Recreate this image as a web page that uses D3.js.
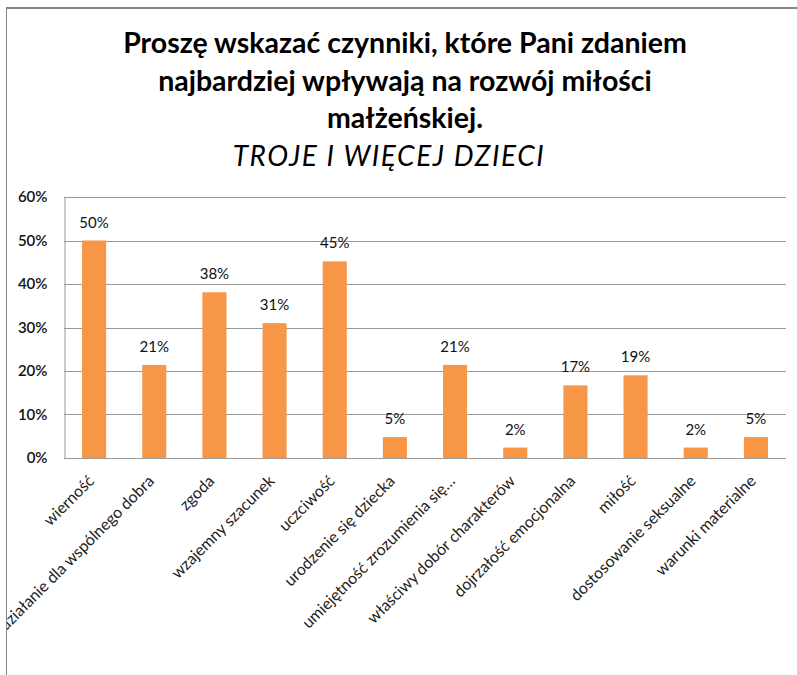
<!DOCTYPE html>
<html>
<head>
<meta charset="utf-8">
<script src="https://cdn.jsdelivr.net/npm/d3@7"></script>
<style>
  body { margin: 0; background: #fff; }
  svg { display: block; font-family: Lato, "Open Sans", sans-serif; }
</style>
</head>
<body>
<div id="chart"></div>
<script>
// data
const categories = [
    "wierność",
    "działanie dla wspólnego dobra",
    "zgoda",
    "wzajemny szacunek",
    "uczciwość",
    "urodzenie się dziecka",
    "umiejętność zrozumienia się…",
    "właściwy dobór charakterów",
    "dojrzałość emocjonalna",
    "miłość",
    "dostosowanie seksualne",
    "warunki materialne"
];
const values = [0.50, 0.214, 0.381, 0.31, 0.452, 0.048, 0.214, 0.024, 0.167, 0.19, 0.024, 0.048];
const yTicks = [0, 0.1, 0.2, 0.3, 0.4, 0.5, 0.6];
const titleLines = [
    "Proszę wskazać czynniki, które Pani zdaniem",
    "najbardziej wpływają na rozwój miłości",
    "małżeńskiej."
];
const subtitle = "TROJE I WIĘCEJ DZIECI";

const width = 797, height = 675;
const margin = { top: 197, right: 11, bottom: 217, left: 64 };

const svg = d3.select("#chart").append("svg")
    .attr("width", width)
    .attr("height", height);

svg.append("defs").append("clipPath").attr("id", "frame")
    .append("rect").attr("x", 7).attr("y", 9).attr("width", width).attr("height", height);

// frame of the chart
svg.append("line")
    .attr("x1", 6).attr("x2", width).attr("y1", 8).attr("y2", 8)
    .attr("stroke", "#858585").attr("stroke-width", 2);
svg.append("line")
    .attr("x1", 6.5).attr("x2", 6.5).attr("y1", 8).attr("y2", height)
    .attr("stroke", "#858585").attr("stroke-width", 1);

const x = d3.scaleBand()
    .domain(categories)
    .range([margin.left, width - margin.right])
    .paddingInner(0.6)
    .paddingOuter(0.3);

const y = d3.scaleLinear()
    .domain([0, 0.6])
    .range([height - margin.bottom, margin.top]);

// title
const title = svg.append("text")
    .attr("text-anchor", "middle")
    .attr("font-weight", "bold")
    .attr("font-size", 28.5)
    .attr("fill", "#000");
titleLines.forEach(function (t, i) {
    title.append("tspan").attr("x", 405).attr("y", 53 + i * 37.5).text(t);
});
svg.append("text")
    .attr("x", 389).attr("y", 166)
    .attr("text-anchor", "middle")
    .attr("font-style", "italic")
    .attr("font-size", 28)
    .attr("letter-spacing", 1.6)
    .attr("fill", "#000")
    .text(subtitle);

// gridlines
svg.append("g")
    .selectAll("line")
    .data(yTicks.slice(1))
    .join("line")
    .attr("x1", margin.left).attr("x2", width - margin.right)
    .attr("y1", d => Math.round(y(d)) + 0.5).attr("y2", d => Math.round(y(d)) + 0.5)
    .attr("stroke", "#999").attr("stroke-width", 1);

// y axis
const yAxis = svg.append("g")
    .attr("transform", `translate(${margin.left + 0.5},0)`)
    .call(d3.axisLeft(y).tickValues(yTicks).tickFormat(d3.format(".0%")).tickSize(0).tickPadding(17));
yAxis.select(".domain").attr("stroke", "#999");
yAxis.selectAll("text")
    .attr("font-family", "Lato, sans-serif")
    .attr("font-size", 15)
    .attr("font-weight", 600)
    .attr("fill", "#111");

// bars
svg.append("g")
    .selectAll("rect")
    .data(values)
    .join("rect")
    .attr("x", (d, i) => x(categories[i]))
    .attr("y", d => y(d))
    .attr("width", x.bandwidth())
    .attr("height", d => y(0) - y(d))
    .attr("fill", "#f79646");

// x axis line
svg.append("line")
    .attr("x1", margin.left).attr("x2", width - margin.right)
    .attr("y1", Math.round(y(0)) + 0.5).attr("y2", Math.round(y(0)) + 0.5)
    .attr("stroke", "#999");

// value labels
svg.append("g")
    .selectAll("text")
    .data(values)
    .join("text")
    .attr("x", (d, i) => x(categories[i]) + x.bandwidth() / 2)
    .attr("y", d => y(d) - 13)
    .attr("text-anchor", "middle")
    .attr("font-size", 15)
    .attr("fill", "#111")
    .text(d => d3.format(".0%")(d));

// category labels, rotated
svg.append("g")
    .attr("clip-path", "url(#frame)")
    .selectAll("text")
    .data(categories)
    .join("text")
    .attr("transform", d => `translate(${x(d) + x.bandwidth() / 2 + 1},${y(0) + 24}) rotate(-45)`)
    .attr("text-anchor", "end")
    .attr("font-size", 16)
    .attr("fill", "#222")
    .text(d => d);
</script>
</body>
</html>
